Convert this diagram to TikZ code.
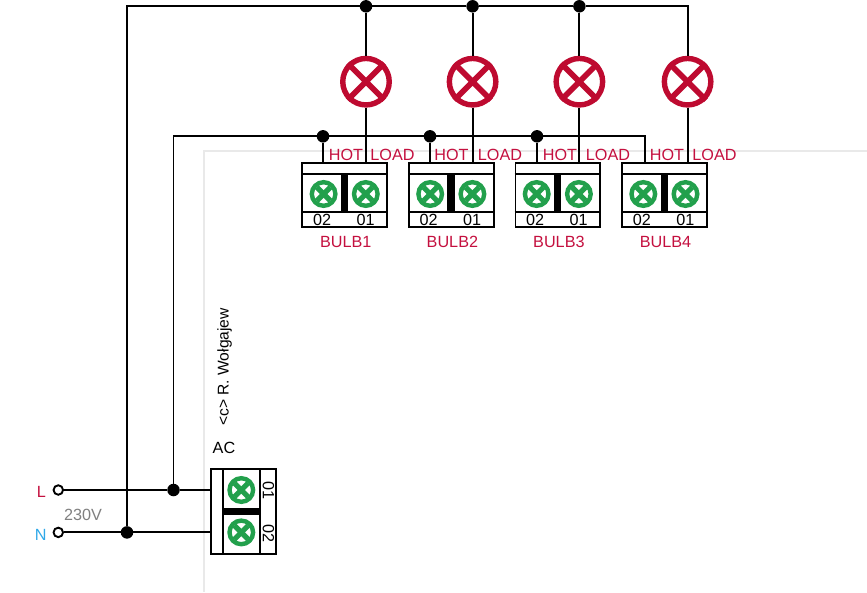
\documentclass[tikz,border=0pt]{standalone}
\usepackage{fontspec}
\setmainfont{Liberation Sans}
\definecolor{lampred}{HTML}{BE0A30}
\definecolor{labelred}{HTML}{C4103F}
\definecolor{termgreen}{HTML}{22A04C}
\definecolor{nblue}{HTML}{2FA8E8}
\definecolor{bggrey}{HTML}{E9E9E9}
\tikzset{
  wire/.style={line width=1.9pt,black},
  frame/.style={draw=black,line width=1.9pt,fill=white},
  dot/.style={circle,fill=black,inner sep=0pt,minimum size=12.5pt},
  lamp/.style={circle,draw=lampred,line width=5.4pt,fill=white,inner sep=0pt,minimum size=46.5pt},
  lampx/.style={draw=lampred,line width=5.6pt},
  screw/.style={circle,draw=termgreen,line width=4.4pt,fill=white,inner sep=0pt,minimum size=23.6pt},
  screwx/.style={draw=termgreen,line width=5.2pt,shorten >=4.4pt,shorten <=4.4pt},
  terminal/.style={circle,draw=black,line width=1.9pt,fill=white,inner sep=0pt,minimum size=9.5pt},
  redlabel/.style={text=labelred,font=\fontsize{16.2}{16}\selectfont,anchor=base,inner sep=0pt},
  blacklabel/.style={text=black,font=\fontsize{16.2}{16}\selectfont,anchor=base,inner sep=0pt},
  bulbbox/.style={frame,rectangle,inner sep=0pt,minimum width=84.8pt,minimum height=63.5pt},
}
\begin{document}
\begin{tikzpicture}[x=1pt,y=-1pt]
\useasboundingbox (0,0) rectangle (867,592);
% faint background lines
\draw[bggrey,line width=1.6pt] (867,151) -- (204,151) -- (204,592);
% AC block and terminals
\node[bulbbox,minimum width=65pt,minimum height=85pt] (ac) at (243.8,511.15) {};
\node[terminal] (L) at (58.3,490) {};
\node[terminal] (N) at (58.3,532.4) {};
\node[dot] (jL) at (173.5,490) {};
\node[dot] (jN) at (127,532.4) {};
\coordinate (acL) at (ac.west |- L);
\coordinate (acN) at (ac.west |- N);
\coordinate (topL) at (127,6.3);
\coordinate (midL) at (173.5,136.3);
% bus rails
\foreach \i/\mx/\lx/\jx/\tx in {1/344.8/366/323/366,2/451.4/472.6/430/472.6,3/557.9/579.4/537/579.4,4/664.5/687.6/645/687.6}{
  \node[bulbbox] (m\i) at (\mx,195) {};
  \node[lamp] (b\i) at (\lx,81.7) {};
  \coordinate (mh\i) at (\jx,162.3);
  \coordinate (ml\i) at (\lx,162.3);
  \draw[lampx] (b\i.45) -- (b\i.225) (b\i.135) -- (b\i.315);
  \draw[wire] (b\i.south) -- (ml\i);
}
\node[dot] (t1) at (366,6.3) {};
\node[dot] (t2) at (472.6,6.3) {};
\node[dot] (t3) at (579.4,6.3) {};
\coordinate (t4) at (687.6,6.3);
\node[dot] (h1) at (323,136.3) {};
\node[dot] (h2) at (430,136.3) {};
\node[dot] (h3) at (537,136.3) {};
\coordinate (h4) at (645,136.3);
\draw[wire] (L) -- (jL) -- (acL);
\draw[wire] (N) -- (jN) -- (acN);
\draw[wire] (jN) -- (topL) -- (t1) -- (t2) -- (t3) -- (t4) -- (b4.north);
\draw[wire] (t1) -- (b1.north) (t2) -- (b2.north) (t3) -- (b3.north);
\draw[wire] (jL) -- (midL) -- (h1) -- (h2) -- (h3) -- (h4) -- (mh4);
\draw[wire] (h1) -- (mh1) (h2) -- (mh2) (h3) -- (mh3);
% bulb modules
\foreach \i/\x/\lx/\hx/\ox in {1/301.6/BULB1/346/392.5,2/408.2/BULB2/451.5/500,3/514.7/BULB3/560/608,4/621.3/BULB4/667/714.5}{
  \draw[wire] (\x,174.3) -- ++(86.3,0) (\x,212) -- ++(86.3,0);
  \fill[black] (\x+39.2,174.3) rectangle (\x+46.6,212);
  \node[screw] (sa\i) at (\x+22,194) {};
  \node[screw] (sb\i) at (\x+64.2,194) {};
  \draw[screwx] (sa\i.45) -- (sa\i.225);
  \draw[screwx] (sa\i.135) -- (sa\i.315);
  \draw[screwx] (sb\i.45) -- (sb\i.225);
  \draw[screwx] (sb\i.135) -- (sb\i.315);
  \node[blacklabel] (n02\i) at (\x+20.5,225) {02};
  \node[blacklabel] (n01\i) at (\x+64,225) {01};
  \node[redlabel] (bl\i) at (\x+44.2,247) {\lx};
  \node[redlabel] (hot\i) at (\hx,160) {HOT};
  \node[redlabel] (load\i) at (\ox,160) {LOAD};
}
% AC module interior
\draw[wire] (223.3,468) -- (223.3,554.3) (260,468) -- (260,554.3);
\fill[black] (223.3,507.7) rectangle (260,515);
\node[screw] (sL) at (241.3,490) {};
\node[screw] (sN) at (241.3,532.4) {};
\draw[screwx] (sL.45) -- (sL.225);
\draw[screwx] (sL.135) -- (sL.315);
\draw[screwx] (sN.45) -- (sN.225);
\draw[screwx] (sN.135) -- (sN.315);
\node[blacklabel,rotate=-90,anchor=center] (a01) at (268.5,490.5) {01};
\node[blacklabel,rotate=-90,anchor=center] (a02) at (268.5,533.5) {02};
% texts
\node[blacklabel,anchor=base west] (actext) at (212.5,453.5) {AC};
\node[blacklabel,rotate=90,anchor=center,font=\fontsize{15.6}{16}\selectfont] (credit) at (224.5,367) {<c> R. Wołgajew};
\node[redlabel] (Ltxt) at (41.5,497.7) {L};
\node[text=nblue,font=\fontsize{16.2}{16}\selectfont,anchor=base,inner sep=0pt] (Ntxt) at (40.7,540.7) {N};
\node[text=black!50,font=\fontsize{16.2}{16}\selectfont,anchor=base,inner sep=0pt] (v) at (83,520) {230V};
\end{tikzpicture}
\end{document}
